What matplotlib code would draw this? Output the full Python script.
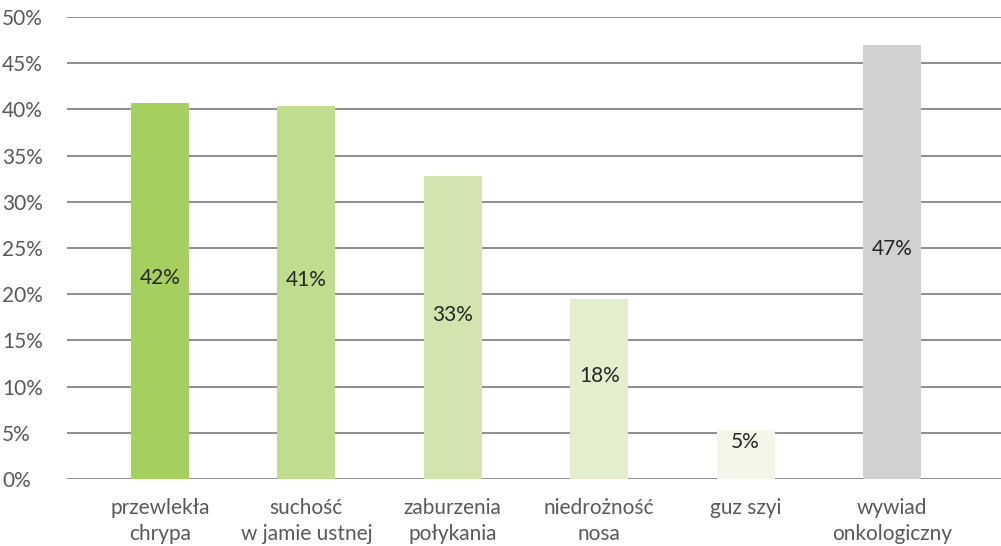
import matplotlib
matplotlib.use("Agg")
import matplotlib.pyplot as plt
import matplotlib.ticker as ticker

categories = ["przewlekła\nchrypa", "suchość\nw jamie ustnej", "zaburzenia\npołykania",
              "niedrożność\nnosa", "guz szyi", "wywiad\nonkologiczny"]
heights = [40.7, 40.4, 32.8, 19.5, 5.3, 47.0]
labels = ["42%", "41%", "33%", "18%", "5%", "47%"]
colors = ["#a5cf5f", "#c0dc8f", "#d2e5ae", "#e2eecd", "#f2f7ea", "#d0d1d3"]

plt.rcParams['font.family'] = ['Lato', 'DejaVu Sans']

fig = plt.figure(figsize=(10.01, 5.46), dpi=100)
ax = fig.add_axes([67 / 1001, 1 - 479 / 546, 1 - 67 / 1001, (479 - 17) / 546])

x = list(range(len(categories)))
ax.bar(x, heights, width=0.396, color=colors, zorder=3)

for xi, h, lab in zip(x, heights, labels):
    ax.annotate(lab, (xi, h / 2), xytext=(0, 9), textcoords='offset points',
                ha='center', va='center', fontsize=15, color='#262626', zorder=4)

ax.set_xlim(-0.635, 5.745)
ax.set_ylim(0, 50)
ax.yaxis.set_major_locator(ticker.MultipleLocator(5))
ax.yaxis.set_major_formatter(ticker.FuncFormatter(lambda v, p: f"{int(v)}%"))
ax.grid(axis='y', color='#868686', linewidth=1.3, zorder=0)
ax.set_xticks(x)
ax.set_xticklabels(categories, fontsize=15, color='#595959', linespacing=1.35)
ax.tick_params(axis='y', labelsize=15, labelcolor='#595959', length=0)
ax.tick_params(axis='x', length=0, pad=14)
for s in ax.spines.values():
    s.set_visible(False)
for lbl in ax.get_yticklabels():
    lbl.set_horizontalalignment('left')
    lbl.set_x(-65 / 934)
    lbl.set_transform(ax.get_yaxis_transform())

fig.savefig("out.png", dpi=100)
